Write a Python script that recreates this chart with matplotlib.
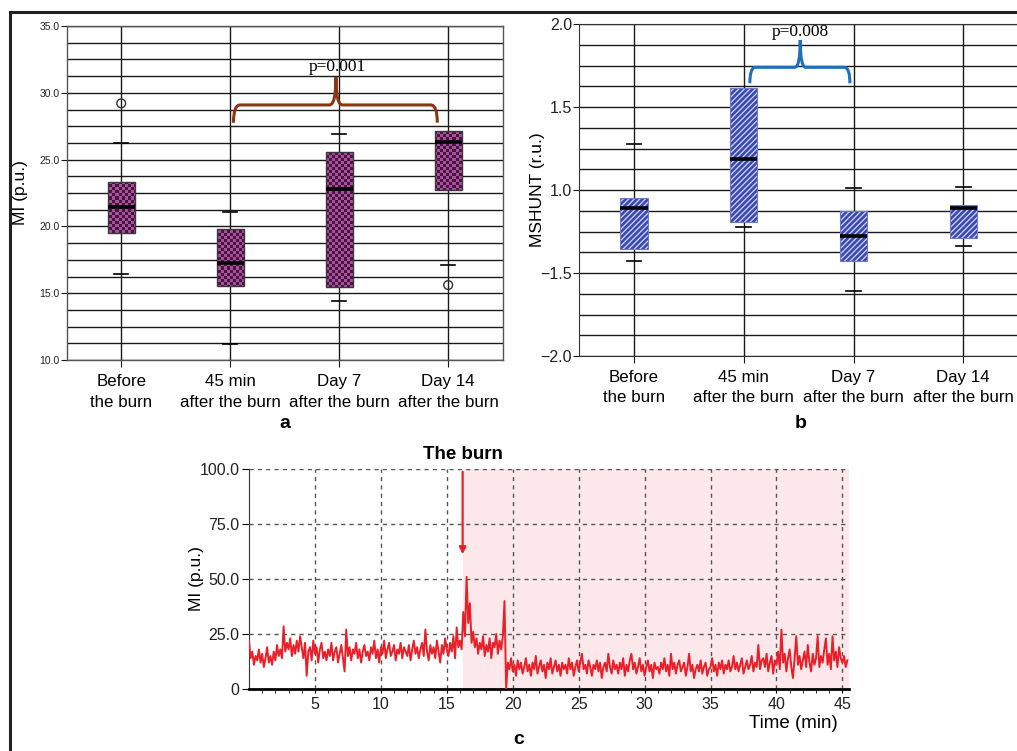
import numpy as np
import matplotlib
matplotlib.use("Agg")
import matplotlib.pyplot as plt
import matplotlib.transforms as mtransforms
from matplotlib.patches import Rectangle, PathPatch
from matplotlib.path import Path
from matplotlib.colors import ListedColormap
from matplotlib.lines import Line2D

# ---------------- data ----------------
categories = ["Before\nthe burn", "45 min\nafter the burn", "Day 7\nafter the burn", "Day 14\nafter the burn"]

# panel a: MI (p.u.)
a_q1 = [19.48, 15.54, 15.46, 22.70]
a_med = [21.43, 17.24, 22.80, 26.29]
a_q3 = [23.30, 19.83, 25.59, 27.16]
a_wlo = [16.41, 11.22, 14.42, 17.11]
a_whi = [26.22, 21.08, 26.89, None]
a_out_x = [0, 3]
a_out_y = [29.21, 15.61]
a_p_text = "p=0.001"

# panel b: MSHUNT (r.u.) - plotted on the axis scale as drawn
b_q1 = [0.643, 0.805, 0.574, 0.713]
b_med = [0.892, 1.187, 0.721, 0.892]
b_q3 = [0.954, 1.617, 0.872, 0.912]
b_wlo = [0.572, 0.775, 0.390, 0.661]
b_whi = [1.277, None, 1.012, 1.018]
b_tick_pos = [0.0, 0.5, 1.0, 1.5, 2.0]
b_tick_labels = ["\u22122.0", "\u22121.5", "1.0", "1.5", "2.0"]
b_p_text = "p=0.008"

# panel c: MI trace, one value per 0.125 min
c_step = 0.125
c_values = [
    22, 14, 17, 11, 15, 13, 18, 12,
    16, 10, 14, 19, 12, 15, 11, 17,
    13, 20, 15, 18, 14, 28.5, 17, 21,
    18, 23, 15, 20, 16, 22, 17, 24,
    19, 14, 21, 6, 17, 19, 13, 22,
    16, 19, 12, 18, 21, 14, 17, 13,
    18, 15, 21, 13, 17, 19, 12, 16,
    20, 14, 8, 27, 15, 19, 13, 18,
    16, 21, 14, 18, 12, 17, 20, 15,
    17, 13, 19, 16, 22, 14, 18, 12,
    19, 16, 22, 14, 18, 21, 15, 17,
    20, 13, 18, 16, 21, 14, 19, 17,
    15, 20, 13, 18, 22, 16, 19, 14,
    18, 21, 15, 27, 17, 13, 20, 16,
    19, 14, 22, 17, 12, 20, 16, 23,
    18, 15, 21, 17, 24, 14, 28, 19,
    22, 18, 35, 24, 51, 30, 39, 21,
    26, 19, 23, 16, 21, 18, 24, 15,
    20, 17, 23, 14, 21, 19, 25, 16,
    22, 18, 24, 40, 0, 12, 9, 14,
    8, 11, 6, 13, 9, 12, 7, 10,
    14, 8, 11, 6, 12, 9, 15, 7,
    10, 13, 8, 11, 5, 12, 9, 14,
    7, 10, 13, 8, 11, 6, 12, 9,
    11, 7, 14, 9, 12, 6, 10, 13,
    8, 12, 16, 9, 11, 7, 13, 10,
    6, 11, 9, 13, 8, 12, 5, 10,
    12, 8, 16, 10, 7, 13, 9, 11,
    7, 12, 9, 14, 6, 11, 8, 13,
    16, 9, 12, 7, 10, 14, 8, 11,
    6, 10, 13, 8, 11, 5, 12, 9,
    10, 7, 12, 9, 14, 8, 11, 6,
    16, 9, 12, 7, 11, 13, 8, 10,
    12, 6, 10, 16, 8, 11, 5, 9,
    11, 8, 13, 7, 10, 12, 6, 9,
    10, 14, 8, 11, 6, 12, 9, 13,
    7, 11, 9, 13, 8, 10, 15, 9,
    12, 8, 11, 14, 7, 10, 13, 9,
    11, 15, 8, 12, 10, 20, 9, 13,
    14, 10, 16, 8, 12, 15, 7, 13,
    11, 17, 9, 27, 12, 16, 8, 14,
    18, 10, 5, 14, 24, 11, 15, 9,
    13, 17, 10, 20, 12, 8, 16, 11,
    14, 24, 10, 15, 12, 18, 23, 11,
    16, 9, 24, 13, 17, 10, 19, 14,
    12, 15, 10, 13,
]
burn_time = 16.2
c_xticks = [5, 10, 15, 20, 25, 30, 35, 40, 45]
c_yticks = [0, 25, 50, 75, 100]
c_yticklabels = ["0", "25.0", "50.0", "75.0", "100.0"]

# ---------------- figure ----------------
W, H = 1017, 751
fig = plt.figure(figsize=(W / 100, H / 100), dpi=100)
plt.rcParams['font.family'] = ['Liberation Sans', 'DejaVu Sans']

def fr(x0, y0, x1, y1):
    return [x0 / W, 1 - y1 / H, (x1 - x0) / W, (y1 - y0) / H]

def brace(ax, x0, x1, xc, y_tip, y_top, y_cusp, color, dx):
    verts = [(x0, y_tip), (x0, y_top), (x0 + dx, y_top),
             (xc - dx, y_top), (xc, y_top), (xc, y_cusp),
             (xc, y_top), (xc + dx, y_top),
             (x1 - dx, y_top), (x1, y_top), (x1, y_tip)]
    codes = [Path.MOVETO, Path.CURVE3, Path.CURVE3,
             Path.LINETO, Path.CURVE3, Path.CURVE3,
             Path.CURVE3, Path.CURVE3,
             Path.LINETO, Path.CURVE3, Path.CURVE3]
    ax.add_patch(PathPatch(Path(verts, codes), fill=False, edgecolor=color,
                           lw=2.2, zorder=6, clip_on=False))

def shift_labels(ax, offsets_px):
    for lab, dx in zip(ax.get_xticklabels(), offsets_px):
        lab.set_transform(lab.get_transform() +
                          mtransforms.ScaledTranslation(dx / 100, 0, fig.dpi_scale_trans))

# ---------- panel a ----------
axa = fig.add_axes(fr(66.7, 26, 502.7, 360))
axa.set_xlim(-0.5, 3.5)
axa.set_ylim(10, 35)
for y in np.arange(10, 35.01, 1.25):
    axa.axhline(y, color='#1a1a1a', lw=1.0, zorder=1)
for i in range(4):
    axa.axvline(i, color='#1a1a1a', lw=1.0, zorder=1)
ny, nx = 111, 145
checker = (np.add.outer(np.arange(ny), np.arange(nx)) % 2)
cmap_a = ListedColormap(['#a8509c', '#461640'])
for i in range(4):
    r = Rectangle((i - 0.125, a_q1[i]), 0.25, a_q3[i] - a_q1[i],
                  facecolor='none', edgecolor='#3a3a3a', lw=1.0, zorder=4)
    axa.add_patch(r)
    im = axa.imshow(checker, extent=(-0.5, 3.5, 10, 35), aspect='auto',
                    cmap=cmap_a, interpolation='nearest', zorder=3)
    im.set_clip_path(r)
    axa.plot([i - 0.125, i + 0.125], [a_med[i]] * 2, color='black', lw=2.6, zorder=5,
             solid_capstyle='butt')
    axa.plot([i - 0.065, i + 0.065], [a_wlo[i]] * 2, color='black', lw=1.2, zorder=5)
    if a_whi[i] is not None:
        axa.plot([i - 0.065, i + 0.065], [a_whi[i]] * 2, color='black', lw=1.2, zorder=5)
axa.scatter(a_out_x, a_out_y, s=40, facecolors='none', edgecolors='#333333', lw=1.0, zorder=5)
axa.set_yticks([10, 15, 20, 25, 30, 35])
axa.set_yticklabels(["10.0", "15.0", "20.0", "25.0", "30.0", "35.0"], fontsize=7.5)
axa.set_xticks(range(4))
axa.set_xticklabels(categories, fontsize=12.2, linespacing=1.5)
shift_labels(axa, [-2, -9, -2, 8])
axa.tick_params(axis='x', length=5, pad=5, color='#1a1a1a')
axa.tick_params(axis='y', length=4, pad=1, color='#1a1a1a', labelcolor='#222222')
for s in axa.spines.values():
    s.set_color('#555555')
    s.set_linewidth(1.0)
axa.set_ylabel("MI (p.u.)", fontsize=12.5)
axa.yaxis.set_label_coords(-0.088, 0.5)
brace(axa, 1.03, 2.90, 1.97, 27.76, 29.09, 31.16, '#8b3512', 0.06)
axa.text(1.98, 31.95, a_p_text, ha='center', va='center', fontsize=12.5,
         family=['Liberation Serif', 'DejaVu Serif'], zorder=7)

# ---------- panel b ----------
axb = fig.add_axes(fr(579, 24, 1128, 356))
axb.set_xlim(-0.5, 4.5)
axb.set_ylim(0, 2)
for y in np.arange(0, 2.001, 0.125):
    axb.axhline(y, color='#1a1a1a', lw=1.0, zorder=1)
for i in range(4):
    axb.axvline(i, color='#1a1a1a', lw=1.0, zorder=1)
for i in range(4):
    axb.add_patch(Rectangle((i - 0.125, b_q1[i]), 0.25, b_q3[i] - b_q1[i],
                            facecolor='#3a48ae', edgecolor='#c5cbf0', hatch='//////',
                            lw=0, zorder=3))
    axb.add_patch(Rectangle((i - 0.125, b_q1[i]), 0.25, b_q3[i] - b_q1[i],
                            facecolor='none', edgecolor='#6f7acb', lw=0.8, zorder=4))
    axb.plot([i - 0.125, i + 0.125], [b_med[i]] * 2, color='black', lw=2.6, zorder=5,
             solid_capstyle='butt')
    axb.plot([i - 0.067, i + 0.067], [b_wlo[i]] * 2, color='black', lw=1.2, zorder=5)
    if b_whi[i] is not None:
        axb.plot([i - 0.067, i + 0.067], [b_whi[i]] * 2, color='black', lw=1.2, zorder=5)
axb.set_yticks(b_tick_pos)
axb.set_yticklabels(b_tick_labels, fontsize=11.5)
axb.set_xticks(range(4))
axb.set_xticklabels(categories, fontsize=12.2, linespacing=1.45)
shift_labels(axb, [0, -7, 0, 4])
axb.tick_params(axis='x', length=5, pad=5, color='#1a1a1a')
axb.tick_params(axis='y', length=4, pad=1, color='#1a1a1a', labelcolor='#222222')
axb.spines['right'].set_visible(False)
for s in ['left', 'bottom', 'top']:
    axb.spines[s].set_color('#333333')
axb.set_ylabel("MSHUNT (r.u.)", fontsize=12.5)
axb.yaxis.set_label_coords(-0.062, 0.5)
brace(axb, 1.056, 1.967, 1.515, 1.643, 1.739, 1.904, '#1f6fc0', 0.05)
axb.text(1.515, 1.95, b_p_text, ha='center', va='center', fontsize=12.5,
         family=['Liberation Serif', 'DejaVu Serif'], zorder=7)

# ---------- panel c ----------
axc = fig.add_axes(fr(249, 469, 849, 689))
t = np.arange(len(c_values)) * c_step
axc.set_xlim(0, 45.5)
axc.set_ylim(0, 100)
axc.axvspan(burn_time, 45.5, color='#fce8ea', zorder=0, lw=0)
axc.plot(t, c_values, color='#e8202a', lw=1.4, zorder=3)
axc.set_xticks(c_xticks)
axc.set_xticks(np.arange(1, 46, 1), minor=True)
axc.set_yticks(c_yticks)
axc.set_yticklabels(c_yticklabels)
axc.grid(True, which='major', color='#555555', lw=1.0, linestyle=(0, (3, 3)), zorder=1)
axc.set_axisbelow(True)
axc.tick_params(axis='both', labelsize=11.5, labelcolor='#222222')
axc.tick_params(axis='x', which='major', length=3, pad=3)
axc.tick_params(axis='x', which='minor', length=3)
axc.tick_params(axis='y', length=5, pad=2)
axc.spines['top'].set_visible(False)
axc.spines['right'].set_visible(False)
axc.spines['bottom'].set_linewidth(2.0)
axc.spines['left'].set_color('#333333')
axc.set_ylabel("MI (p.u.)", fontsize=12.5)
axc.yaxis.set_label_coords(-0.075, 0.5)
axc.text(0.982, -0.155, "Time (min)", transform=axc.transAxes, ha='right', va='center',
         fontsize=13.5)
axc.annotate("", xy=(burn_time, 60), xytext=(burn_time, 100),
             arrowprops=dict(arrowstyle='-|>', color='#e8202a', lw=1.6,
                             mutation_scale=10), zorder=5)
axc.text(burn_time, 106.5, "The burn", ha='center', va='center', fontsize=13.5,
         fontweight='bold', clip_on=False)

# panel letters
fig.text(285 / W, 1 - 423 / H, "a", ha='center', va='center', fontsize=14, fontweight='bold')
fig.text(801 / W, 1 - 423 / H, "b", ha='center', va='center', fontsize=14, fontweight='bold')
fig.text(519 / W, 1 - 740 / H, "c", ha='center', va='center', fontsize=14, fontweight='bold')

# outer frame
fig.add_artist(Line2D([10 / W, 10 / W], [0, 1 - 12 / H], color='#222222', lw=2.2))
fig.add_artist(Line2D([10 / W, 1], [1 - 12 / H, 1 - 12 / H], color='#222222', lw=2.2))

fig.savefig("out.png", dpi=100)
